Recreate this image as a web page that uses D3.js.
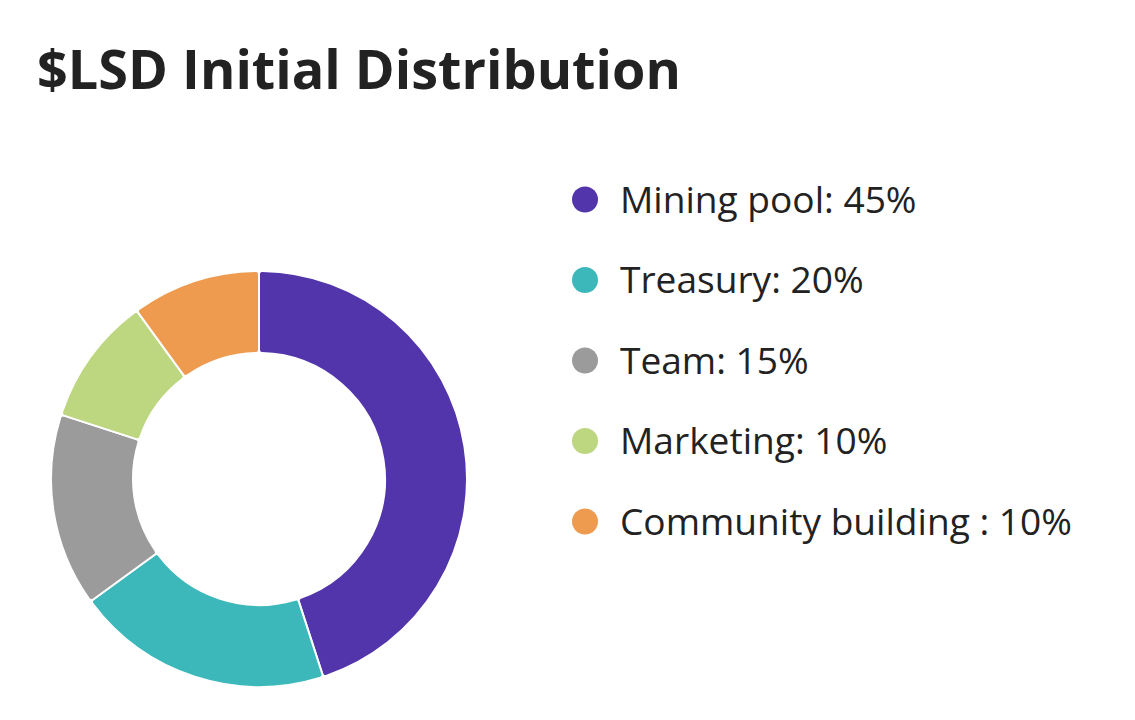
<!DOCTYPE html>
<html>
<head>
<meta charset="utf-8">
<script src="https://cdn.jsdelivr.net/npm/d3@7"></script>
<style>
  html, body { margin: 0; padding: 0; background: #ffffff; }
  svg { display: block; }
</style>
</head>
<body>
<svg id="chart" width="1135" height="720"></svg>
<script>
const categories = ["Mining pool", "Treasury", "Team", "Marketing", "Community building "];
const values = [45, 20, 15, 10, 10];
const colors = ["#5234AB", "#3CB8BA", "#9B9B9B", "#BDD680", "#EE9A4F"];
const title = "$LSD Initial Distribution";

const svg = d3.select("#chart");
const fontFam = "'Open Sans', 'Noto Sans', sans-serif";

// Title
const t = svg.append("text")
  .attr("x", 37).attr("y", 89)
  .attr("font-family", fontFam)
  .attr("font-weight", 700)
  .attr("font-size", 58)
  .attr("fill", "#222222")
  .text(title);
const tw = t.node().getComputedTextLength();
t.attr("font-size", 58 * 644 / tw);

// Donut
const cx = 259, cy = 479, rOuter = 208, rInner = 126;
const data = categories.map((c, i) => ({ name: c, value: values[i], color: colors[i] }));
const pie = d3.pie().value(d => d.value).sort(null);
const arc = d3.arc().innerRadius(rInner).outerRadius(rOuter).cornerRadius(3);
const g = svg.append("g").attr("transform", `translate(${cx},${cy})`);
g.selectAll("path").data(pie(data)).join("path")
  .attr("d", arc)
  .attr("fill", d => d.data.color)
  .attr("stroke", "#ffffff")
  .attr("stroke-width", 2)
  .attr("stroke-linejoin", "round");

// Legend
const legendY = d3.scalePoint().domain(categories).range([199.5, 521.5]);
const lg = svg.append("g");
const items = lg.selectAll("g").data(data).join("g")
  .attr("transform", d => `translate(0,${legendY(d.name)})`);
items.append("circle").attr("cx", 585).attr("cy", 0).attr("r", 13).attr("fill", d => d.color);
const labels = items.append("text")
  .attr("x", 620).attr("y", 0).attr("dy", "0.36em")
  .attr("font-family", fontFam)
  .attr("font-size", 32)
  .attr("fill", "#222222")
  .text(d => `${d.name}: ${d.value}%`);
const lw = labels.nodes()[4].getComputedTextLength();
labels.attr("font-size", 32 * 452 / lw);
</script>
</body>
</html>
